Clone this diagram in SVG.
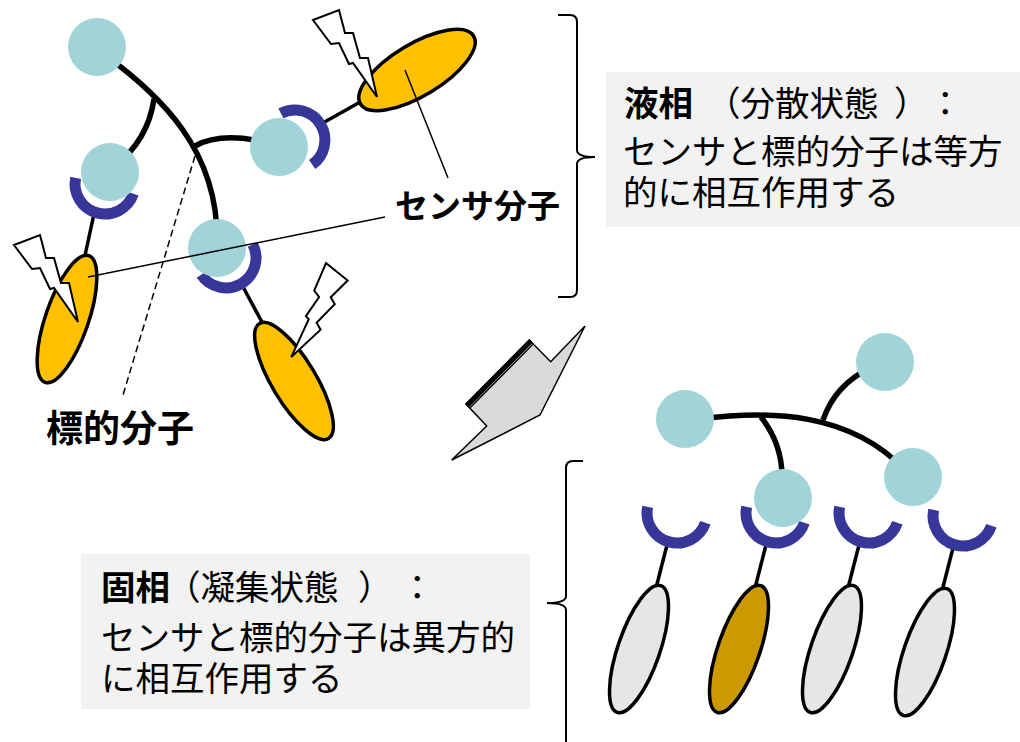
<svg xmlns="http://www.w3.org/2000/svg" width="1020" height="742" viewBox="0 0 1020 742">
  <defs>
    <style>
      .ball{fill:#A0D4D8}
      .cup{fill:none;stroke:#37379A;stroke-width:11}
      .chain{fill:none;stroke:#000;stroke-width:5.5;stroke-linecap:butt}
      .tether{stroke:#000;stroke-width:3.5}
      .mol{stroke:#000;stroke-width:3.5}
      .target{fill:#FFC000}
      .off{fill:#E6E6E6}
      .hit{fill:#CC9900}
      .bolt{fill:#fff;stroke:#000;stroke-width:2}
      .lead{stroke:#000;stroke-width:1.5;fill:none}
      .brace{fill:none;stroke:#000;stroke-width:2}
      .box{fill:#F2F2F2}
      .lbl{font-family:"Noto Sans CJK JP",sans-serif;font-weight:bold;fill:#000}
      .note{font-family:"Noto Sans CJK JP",sans-serif;font-size:34.5px;fill:#000}
      .note .b{font-weight:bold}
    </style>
    <!-- receptor cup, centred on its own origin -->
    <path id="cupArc" d="M28.4,9.8 A30,30 0 0 1 -29.3,-6.2"/>
    <!-- lightning bolt, anchored at its upper-left corner -->
    <path id="boltShape" d="M0,0 L26,-10 L32,13 L40,13 L47,38 L55,38 L64,77 L40,43 L36,44 L26,23 L18,24 Z"/>
  </defs>

  <!-- caption panels -->
  <g id="liquid-note">
    <rect class="box" x="606" y="72" width="414" height="155"/>
    <text class="note"><tspan class="b" x="624" y="116">液相</tspan><tspan x="706" y="116">（分散状態</tspan><tspan x="894" y="116">）</tspan><tspan x="928" y="116">：</tspan><tspan x="623" y="164">センサと標的分子は等方</tspan><tspan x="623" y="205">的に相互作用する</tspan></text>
  </g>
  <g id="solid-note">
    <rect class="box" x="81" y="554" width="449" height="155"/>
    <text class="note"><tspan class="b" x="101" y="600">固相</tspan><tspan x="166" y="600">（凝集状態</tspan><tspan x="358" y="600">）</tspan><tspan x="400" y="600">：</tspan><tspan x="101" y="650">センサと標的分子は異方的</tspan><tspan x="101" y="691">に相互作用する</tspan></text>
  </g>

  <!-- braces -->
  <g id="braces">
    <path class="brace" d="M558,15 L570,15 Q577,15 577,22 L577,150 Q577,157 595,157 Q577,157 577,164 L577,290 Q577,297 570,297 L558,297"/>
    <path class="brace" d="M583,461 L573,461 Q566,461 566,468 L566,596 Q566,603 547,603 Q566,603 566,610 L566,745"/>
  </g>

  <!-- transition arrow -->
  <g id="transition-arrow">
    <polygon points="466,404 529.3,340 550.7,361.7 585,326 540,415 451.7,460 486.7,426" fill="#D9D9D9" stroke="#000" stroke-width="1.5" stroke-linejoin="miter"/>
    <polygon points="466,404 529.3,340 531.8,342.6 468.5,406.6" fill="#000" stroke="#000" stroke-width="1.5"/>
    <line x1="469.6" y1="408.3" x2="532.9" y2="344.3" stroke="#000" stroke-width="1.3"/>
  </g>

  <!-- backbones and tethers -->
  <g id="connectors">
    <path class="chain" d="M105,55 C160,95 218,150 217,240"/>
    <path class="chain" d="M154,99 Q148,140 115,166"/>
    <path class="chain" d="M195,146 Q220,132 265,142"/>
    <line class="tether" x1="94" y1="214" x2="84" y2="260"/>
    <line class="tether" x1="321" y1="124" x2="362" y2="101"/>
    <line class="tether" x1="242" y1="285" x2="263" y2="324"/>

    <path class="chain" d="M700,419 C770,410 850,412 905,470"/>
    <path class="chain" d="M823,420 Q835,385 870,368"/>
    <path class="chain" d="M761,417 Q783,445 782,480"/>
    <line class="tether" x1="667" y1="545" x2="656" y2="588"/>
    <line class="tether" x1="766" y1="545" x2="755" y2="588"/>
    <line class="tether" x1="859" y1="545" x2="848" y2="588"/>
    <line class="tether" x1="953" y1="548" x2="942" y2="591"/>
  </g>

  <!-- dispersed sensor -->
  <g id="sensor-dispersed">
    <use href="#cupArc" class="cup" transform="translate(105,184)"/>
    <use href="#cupArc" class="cup" transform="translate(295,140) rotate(-137)"/>
    <use href="#cupArc" class="cup" transform="translate(226,258) rotate(-46)"/>
    <circle class="ball" cx="97" cy="47" r="29"/>
    <circle class="ball" cx="110" cy="172" r="29"/>
    <circle class="ball" cx="279" cy="147" r="29"/>
    <circle class="ball" cx="217" cy="248" r="29"/>
  </g>

  <g id="targets-dispersed">
    <ellipse class="mol target" cx="417" cy="70" rx="66" ry="26" transform="rotate(-31 417 70)"/>
    <ellipse class="mol target" cx="67" cy="319" rx="21.5" ry="67" transform="rotate(19 67 319)"/>
    <ellipse class="mol target" cx="294" cy="381" rx="22" ry="67" transform="rotate(-31 294 381)"/>
  </g>

  <g id="signals">
    <use href="#boltShape" class="bolt" transform="translate(313,20)"/>
    <use href="#boltShape" class="bolt" transform="translate(14,245)"/>
    <use href="#boltShape" class="bolt" transform="translate(326,263) rotate(60)"/>
  </g>

  <!-- aggregated sensor -->
  <g id="sensor-aggregated">
    <use href="#cupArc" class="cup" transform="translate(677,513)"/>
    <use href="#cupArc" class="cup" transform="translate(776,513)"/>
    <use href="#cupArc" class="cup" transform="translate(869,513)"/>
    <use href="#cupArc" class="cup" transform="translate(963,516)"/>
    <circle class="ball" cx="685" cy="419" r="29"/>
    <circle class="ball" cx="885" cy="362" r="29"/>
    <circle class="ball" cx="783" cy="498" r="29"/>
    <circle class="ball" cx="913" cy="477" r="29"/>
  </g>

  <g id="targets-aggregated">
    <ellipse class="mol off" cx="639" cy="649" rx="21" ry="67" transform="rotate(19 639 649)"/>
    <ellipse class="mol hit" cx="739" cy="649" rx="21" ry="67" transform="rotate(19 739 649)"/>
    <ellipse class="mol off" cx="832" cy="649" rx="21" ry="67" transform="rotate(19 832 649)"/>
    <ellipse class="mol off" cx="925" cy="652" rx="21" ry="67" transform="rotate(19 925 652)"/>
  </g>

  <!-- leader lines and labels -->
  <g id="leaders">
    <line class="lead" x1="405" y1="70" x2="448" y2="178"/>
    <line class="lead" x1="88" y1="277" x2="385" y2="217"/>
    <line class="lead" x1="195" y1="156" x2="123" y2="395" stroke-dasharray="7 4"/>
  </g>
  <g id="label-sensor">
    <text class="lbl" x="395" y="218" font-size="33">センサ分子</text>
  </g>
  <g id="label-target">
    <text class="lbl" x="46" y="442" font-size="37">標的分子</text>
  </g>
</svg>
